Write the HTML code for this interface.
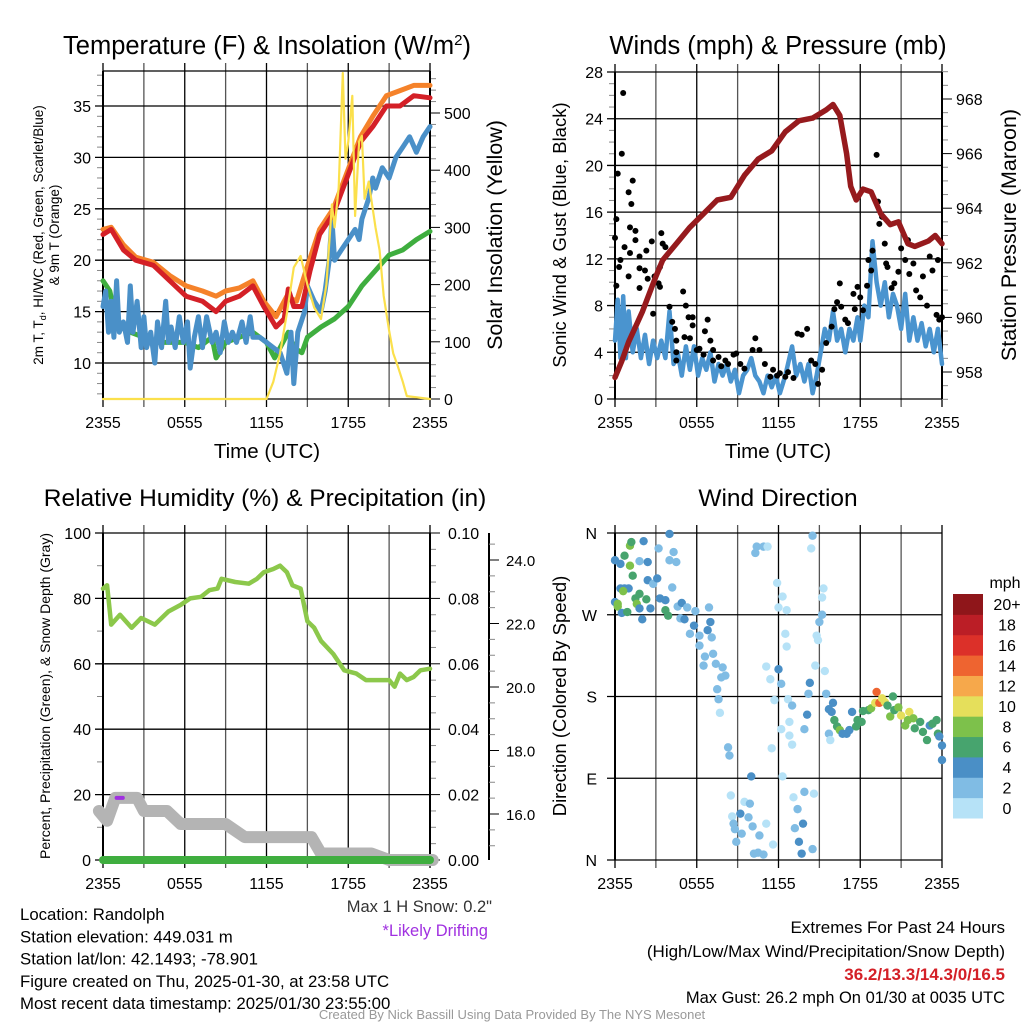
<!DOCTYPE html>
<html><head><meta charset="utf-8"><style>
body{margin:0;background:#fff;}
svg{display:block;font-family:"Liberation Sans",sans-serif;}
</style></head><body>
<svg id="c" width="1024" height="1024" viewBox="0 0 1024 1024"></svg>
<script>
// ===== DATA =====
const timeTicks = ["2355","0555","1155","1755","2355"];
// Panel 1: temperature
const orangeH = [0,0.6,1.5,2.4,3.7,4.9,6.1,7.3,8.3,9,10,11,11.8,12.7,13.5,14.2,14.9,15.9,16.9,17.9,18.9,19.8,20.8,21.8,22.8,24];
const orangeV = [23,23.2,21.5,20.3,19.8,18.5,17.5,17,16.5,17,17.3,18,16,14.5,16.5,16,19,23,25,28.5,32,34,36,36.5,37,37];
const redH = [0,0.6,1.5,2.4,3.7,4.9,6.1,7.3,8.3,9,10,11,11.8,12.7,13.3,13.6,14,14.6,15.2,15.9,16.9,17.9,18.9,19.8,20.8,21.8,22.8,24];
const redV = [22.5,23,21,20,19.5,18,16.5,16,15,16,16.5,17.5,15.5,13.5,14.3,17.2,15.5,15.5,19,22.5,24.5,28,31.5,33,35,35,36,35.8];
const greenH = [0,0.5,1,2,3,4,5,6,7,8,8.3,9,10,11,12,12.6,13,13.6,14,14.6,15,16,17,18,19,20,21,22,23,24];
const greenV = [18,17,14,13,12.5,12,12,12,11.5,12.5,10.5,12,12.5,13,12,10.5,11.5,13,11.5,11,12.5,13.5,14.3,15.5,17.5,19,20.5,21,22,22.8];
const blueH = [0,0.2,0.4,0.6,0.8,1,1.2,1.5,1.8,2,2.2,2.5,2.8,3,3.2,3.5,3.8,4,4.3,4.6,4.8,5,5.3,5.6,5.9,6.2,6.4,6.7,7,7.3,7.6,8,8.3,8.6,8.9,9.2,9.5,9.8,10.2,10.5,10.8,11,11.5,12,12.5,13,13.5,13.8,14,14.3,14.8,15,15.5,16,16.3,16.6,16.8,17,17.5,18,18.5,18.8,19,19.5,19.8,20,20.5,21,21.5,22,22.5,23,23.5,24];
const blueV = [15.5,17,13,16,12.5,18,13,14,12,17.5,13,16,11.5,14.5,11.5,13,10,14,11.5,16,12,13.5,11.5,14.5,12,14,9.5,12.5,14.5,11.5,14.5,12,13,11,14,12,13,12,14,12,14.5,12.5,12.5,12,11.5,11,9,13,8,13,15,17.5,16,15,17,20,24,20,21,22,23,22,24,26,28,27,29,28,30,31,32,30.5,32,33];
const solarH = [0,12,12.5,13,13.5,14,14.5,15,15.5,16,16.4,16.8,17,17.3,17.6,17.8,18,18.3,18.5,18.8,19,19.2,19.5,20,20.3,20.6,21,21.3,21.6,22,22.3,24];
const solarV = [0,0,30,80,150,230,250,200,160,140,200,340,300,370,570,420,450,530,320,450,460,350,380,300,260,180,120,80,60,30,5,0];
// Panel 2: winds & pressure
const presH = [0,0.5,1,2,3,3.5,4.5,5.5,6.5,7.5,8.5,9.5,10.5,11.5,12.5,13.5,14.5,15.5,16,16.5,17,17.3,17.7,18.2,18.8,19.5,20.2,20.8,21.5,22,23,23.5,24];
const presV = [957.8,958.4,959.1,960.2,961.5,962.1,962.7,963.3,963.8,964.3,964.4,965.2,965.8,966.1,966.8,967.2,967.3,967.6,967.8,967.4,966.0,964.8,964.3,964.7,964.6,963.8,963.4,963.5,962.7,962.6,962.8,963,962.7];
const windH = [0,0.2,0.4,0.6,0.8,1,1.3,1.6,1.9,2.2,2.5,2.8,3.1,3.4,3.7,4,4.3,4.6,4.9,5.2,5.5,5.8,6.1,6.4,6.7,7,7.3,7.6,7.9,8.2,8.5,8.8,9.1,9.4,9.7,10,10.3,10.6,10.9,11.2,11.5,11.8,12.1,12.5,13,13.3,13.6,13.9,14.2,14.5,14.8,15.1,15.4,15.7,16,16.3,16.6,16.9,17.2,17.5,17.8,18,18.3,18.6,18.9,19.2,19.5,19.8,20.1,20.4,20.7,21,21.3,21.6,21.9,22.2,22.5,22.8,23.1,23.4,23.7,24];
const windV = [5,8.5,3.5,8.8,3.5,7.5,4,6,3.5,5.5,3,5,3.5,5,3.5,7.5,3,4,2,4.5,2.5,4.5,2,3.5,2.5,4,1.5,3,2,3,1.5,2.5,0.5,2,2.5,3.5,2,1.5,0.5,2,1,2,0.5,2,4.5,2,3,1.5,3,0.5,2,4,6,5,7.5,5,6,4,6,5,7,5,8,7,13.5,10,8,10,7,9,8,6,9,5,7,5,6.5,4.5,6,4,6,3];
const gustH = [0,0.1,0.1,0.2,0.6,0.5,0.4,0.3,1.0,0.7,1.1,1.3,1.0,1.2,1.1,1.5,1.5,1.8,1.8,1.8,2.2,2.3,2.4,2.7,2.8,2.9,3.2,3.3,3.4,3.5,3.7,3.3,4.0,4.2,4.4,4.5,4.5,4.5,5.0,5.2,5.1,5.4,5.5,5.7,5.7,6.0,6.2,6.5,6.6,6.8,7.0,7.2,7.2,7.6,7.8,8.1,8.3,8.7,8.9,9.2,9.5,10.1,10.3,10.6,11.0,11.4,11.6,11.9,12.1,12.5,12.7,13.1,13.4,13.7,14.1,14.4,14.7,14.9,15.2,15.5,15.9,16.1,16.3,16.5,16.6,16.9,17.1,17.5,17.6,17.8,18.0,18.2,18.5,18.6,18.8,18.9,19.2,19.3,19.4,19.6,19.8,19.9,20.0,20.3,20.5,20.8,21.0,21.3,21.5,21.6,21.9,22.1,22.4,22.6,22.9,23.1,23.3,23.6,23.7,23.8,24.0];
const gustV = [13.8,9.7,15.4,19.3,26.2,21,11.9,11.3,10.5,13,14.7,18.7,17.7,16.7,12.5,14.4,13.6,12.2,11.2,9.5,11,12.7,10.3,13.5,7.3,10.5,9.9,11.3,14.2,13.3,13,9.6,7.9,6.6,6,4,3.3,5,9.2,8,5.3,7,5.2,7,6.3,4.2,4.3,3.8,5.8,6.8,5,4.2,3.3,3.6,2.8,3.3,3,3.8,3.9,3,2.6,4.2,5.2,4.2,3,1.9,2.5,2,2.2,1.9,2.3,1.8,5.6,5.5,6,3.3,3,1.3,2.5,4.8,6.2,7.7,8.3,9.9,7.9,6.8,6.5,9,7.7,9.6,8.7,7.6,9.7,11.9,11,12.7,20.9,16.9,15,15.6,13.3,11.6,11.3,9.5,9.9,10.9,12.9,11.9,13.6,10.7,11.6,9.3,8.7,10.5,8,12.2,11,7.2,11.9,6.8,7];
// Panel 3: RH, precip, snow
const rhH = [0,0.3,0.6,1.25,2.1,2.8,3.8,4.8,5.7,6.4,7.2,7.8,8.4,8.7,9.7,10.7,11.3,11.8,12.5,13,13.5,13.9,14.5,15,15.5,16,16.9,17.7,18.6,19.3,20.3,21,21.4,21.8,22.3,22.8,23.3,24];
const rhV = [83,84,72,75,71,74,72,76,78,80,80.5,82.5,83,86,85,84.5,86,88,89,90,88,84,83,73,71,67,63,58,57,55,55,55,53,57,55,56,58,58.5];
const snowH = [-0.3,0.3,0.9,2.5,3.0,4.7,5.7,9.0,10.4,15.3,16.0,19.7,21.0,24.2];
const snowV = [15,12,19,19,15,15,11,11,7,7,2,2,0,0];
const precipH = [0,24];
const precipV = [0,0];
const driftH = [1.0,1.45];
const driftV = [19,19];
// Panel 4: wind direction (hour, degrees, speed mph)
const dirH = [0,0.4,0.4,0.7,1.0,1.1,1.2,0.7,1.1,1.3,0,0.2,0.2,0.5,0.6,0.9,1.5,1.6,1.8,2.0,1.8,2.3,2.6,2.4,2.4,2.1,1.8,2.8,3.1,3.2,3.3,3.7,3.7,3.9,4.0,4.0,4.3,4.5,4.2,4.6,4.9,4.8,5.1,5.3,5.5,5.8,5.9,6.2,6.2,6.9,7.0,6.8,7.1,6.6,6.5,7.2,7.4,7.9,8.1,7.8,7.5,7.6,7.7,8.3,8.4,8.5,8.6,8.7,8.8,8.9,9.2,9.3,9.5,9.9,9.8,10.1,10.0,10.3,10.4,10.9,11.2,10.6,11.1,10.2,10.5,10.9,11.6,11.1,11.4,11.9,12.0,12.2,12.3,12.0,12.6,12.5,12.6,11.7,12.7,13.0,12.8,12.2,12.8,13.0,11.5,12.3,13.1,13.4,13.2,13.8,13.5,13.7,13.9,14.6,14.5,14.1,13.9,14.2,14.3,14.7,15.4,14.5,14.4,15.3,15.2,15.2,15.0,14.8,14.9,15.5,15.7,16.0,15.9,15.7,15.8,16.1,16.3,16.5,16.7,17.0,17.2,17.4,17.7,17.8,18.1,18.2,18.6,18.8,19.1,19.2,19.4,19.6,19.8,20.0,20.2,20.4,20.5,20.8,21.0,21.3,21.5,21.6,21.9,22.0,22.4,22.6,22.9,23.1,23.3,23.6,23.7,23.8,24.0,24.0];
const dirD = [330,326,299,299,299,346,350,335,324,313,284,282,279,272,296,273,288,282,293,265,277,287,277,328,308,351,329,304,310,343,288,286,275,269,359,330,339,328,300,279,283,266,265,278,249,258,274,247,236,278,262,253,245,224,214,227,216,212,203,201,188,177,162,124,115,71,48,40,34,20,51,29,64,62,47,37,92,338,345,345,345,27,40,7,8,6,17,213,199,305,210,194,290,278,275,249,235,176,177,170,152,144,137,127,123,92,69,56,35,40,20,7,75,73,12,160,144,183,195,214,208,357,343,299,289,270,262,247,242,183,166,173,163,139,132,154,147,143,139,139,143,163,147,154,152,164,165,167,173,185,173,178,174,170,158,180,165,168,159,148,154,163,156,145,152,141,132,148,150,154,139,136,126,110];
const dirS = [5,5,5,5,5,9,7,7,9,7,5,9,9,5,9,7,7,9,7,5,5,7,5,5,5,5,3,3,5,3,5,5,7,7,5,3,3,3,3,3,5,3,5,3,3,5,3,3,3,3,5,5,3,3,3,3,3,3,3,3,3,3,1,3,3,1,1,3,3,3,5,3,1,3,3,3,5,3,3,3,1,3,1,3,3,3,1,1,1,1,5,3,1,1,1,1,1,1,1,3,1,1,1,1,1,1,1,3,3,5,5,5,3,1,3,5,3,3,5,1,1,3,1,1,1,3,3,1,1,3,5,5,5,3,1,7,7,9,5,5,5,5,7,7,7,7,7,9,11,15,15,11,11,7,9,7,7,9,11,9,9,11,9,7,7,7,7,5,7,7,7,5,5,5];
const speedLabels = ["0","2","4","6","8","10","12","14","16","18","20+"];
const speedColors = ["#b6e2f7","#80bce4","#4a8fc6","#47a46e","#7dc14b","#e5df5b","#f6a84b","#ee6430","#dc3029","#bb1e26","#8f161a"];

// ===== DRAWING =====
const NS="http://www.w3.org/2000/svg";
const svg=document.getElementById('c');
function mk(tag,attrs,parent){const e=document.createElementNS(NS,tag);for(const k in attrs)e.setAttribute(k,attrs[k]);(parent||svg).appendChild(e);return e;}
function txt(s,x,y,size,anchor,parent,extra){const t=mk('text',Object.assign({x:x,y:y,'font-size':size,'text-anchor':anchor||'middle',fill:'#000'},extra||{}),parent);t.textContent=s;return t;}
function lin(d0,d1,r0,r1){return v=>r0+(v-d0)/(d1-d0)*(r1-r0);}

function panel(name){
  const g=mk('g',{});
  
  
  return g;
}
function timeAxis(g,x0,x1,y0,y1){
  const X=lin(0,24,x0,x1);
  for(let h=0;h<=24;h+=3){
    mk('line',{x1:X(h),x2:X(h),y1:y0-8,y2:y1+8,stroke:h%6==3?'#555':'#000','stroke-width':1.3},g);
  }
  timeTicks.forEach((s,i)=>{const t=txt(s,X(i*6),y1+29,16,'middle',g);
    
    });
  return X;
}
function hgrid(g,x0,x1,ys,tickLeft){
  ys.forEach(y=>{mk('line',{x1:x0-(tickLeft||0),x2:x1,y1:y,y2:y,stroke:'#000','stroke-width':1.3},g);});
}
function path(g,H,V,X,Y,color,w,name){
  let d='';H.forEach((h,i)=>{d+=(i?'L':'M')+X(h).toFixed(1)+' '+Y(V[i]).toFixed(1);});
  const p=mk('path',{d:d,fill:'none',stroke:color,'stroke-width':w,'stroke-linejoin':'round','stroke-linecap':'round'},g);
  
  
  return p;
}

// ---------- Panel 1 ----------
(function(){
  const x0=103,x1=430,y0=71,y1=399;
  const g=panel('temperature-panel');
  const T=lin(10,35,363,106), S=lin(0,500,399,113);
  const X=timeAxis(g,x0,x1,y0,y1);
  const ts=[10,15,20,25,30,35];
  hgrid(g,x0,x1,ts.map(T),8);
  for(let v=7;v<=38;v++) if(v%5) mk('line',{x1:x0-6,x2:x0,y1:T(v),y2:T(v),stroke:'#888'},g);
  for(let v=0;v<=560;v+=20) mk('line',{x1:x1,x2:x1+(v%100?6:10),y1:S(v),y2:S(v),stroke:v%100?'#888':'#000'},g);
  ts.forEach(v=>{const t=txt(String(v),x0-12,T(v)+6,16,'end',g);});
  [0,100,200,300,400,500].forEach(v=>{const t=txt(String(v),x1+14,S(v)+6,16,'start',g);});
  mk('line',{x1:x0,x2:x0,y1:y0,y2:y1,stroke:'#000','stroke-width':2},g);
  mk('line',{x1:x1,x2:x1,y1:y0,y2:y1,stroke:'#000','stroke-width':2},g);
  mk('line',{x1:x0,x2:x1,y1:y0,y2:y0,stroke:'#000','stroke-width':1.3},g);
  mk('line',{x1:x0,x2:x1,y1:y1,y2:y1,stroke:'#000','stroke-width':1.3},g);
  path(g,greenH,greenV,X,T,'#3fae3f',5,'dewpoint-line');
  path(g,blueH,blueV,X,T,'#4a90c8',5,'windchill-line');
  path(g,orangeH,orangeV,X,T,'#f5822a',5,'temp-9m-line');
  path(g,redH,redV,X,T,'#d42027',5,'temp-2m-line');
  path(g,solarH,solarV,X,S,'#fbe04c',2.2,'solar-line');
  const ti=txt('',267,54,25.5,'middle',g);
  ti.innerHTML='Temperature (F) &amp; Insolation (W/m<tspan dy="-9" font-size="15">2</tspan><tspan dy="9">)</tspan>';
  const yt=txt('',0,0,13.5,'middle',g,{transform:'translate(43,235) rotate(-90)'});
  yt.innerHTML='2m T, T<tspan font-size="9" dy="3">d</tspan><tspan dy="-3">, HI/WC (Red, Green, Scarlet/Blue)</tspan>';
  const yt2=txt('& 9m T (Orange)',0,0,13.5,'middle',g,{transform:'translate(59,235) rotate(-90)'});
  const rt=txt('Solar Insolation (Yellow)',0,0,21.5,'middle',g,{transform:'translate(502,235) rotate(-90)'});
  const xt=txt('Time (UTC)',267,458,20.5,'middle',g);
})();

// ---------- Panel 2 ----------
(function(){
  const x0=615,x1=942,y0=72,y1=399;
  const g=panel('winds-panel');
  const W=lin(0,28,399,72), P=lin(958,968,372,99);
  const X=timeAxis(g,x0,x1,y0,y1);
  const ws=[0,4,8,12,16,20,24,28];
  hgrid(g,x0,x1,ws.map(W),8);
  for(let v=1;v<28;v++) if(v%4) mk('line',{x1:x0-6,x2:x0,y1:W(v),y2:W(v),stroke:'#888'},g);
  for(let v=957;v<=969;v+=0.5) mk('line',{x1:x1,x2:x1+(v%2?6:10),y1:P(v),y2:P(v),stroke:v%2?'#888':'#000'},g);
  ws.forEach(v=>{const t=txt(String(v),x0-12,W(v)+6,16,'end',g);});
  [958,960,962,964,966,968].forEach(v=>{const t=txt(String(v),x1+14,P(v)+6,16,'start',g);});
  mk('line',{x1:x0,x2:x0,y1:y0,y2:y1,stroke:'#000','stroke-width':2},g);
  mk('line',{x1:x1,x2:x1,y1:y0,y2:y1,stroke:'#000','stroke-width':2},g);
  path(g,windH,windV,X,W,'#4a94cf',4.5,'sonic-wind-line');
  gustH.forEach((h,i)=>{const c=mk('circle',{cx:X(h),cy:W(gustV[i]),r:3,fill:'#000'},g);
    
    });
  path(g,presH,presV,X,P,'#961a1d',5.5,'pressure-line');
  const ti=txt('Winds (mph) & Pressure (mb)',778,54,25.5,'middle',g);
  const yt=txt('Sonic Wind & Gust (Blue, Black)',0,0,18.5,'middle',g,{transform:'translate(566,235) rotate(-90)'});
  const rt=txt('Station Pressure (Maroon)',0,0,21.5,'middle',g,{transform:'translate(1016,235) rotate(-90)'});
  const xt=txt('Time (UTC)',778,458,20.5,'middle',g);
})();

// ---------- Panel 3 ----------
(function(){
  const x0=103,x1=430,y0=533,y1=860;
  const g=panel('humidity-panel');
  const R=lin(0,100,860,533), SD=lin(16,24,814,560);
  const X=timeAxis(g,x0,x1,y0,y1);
  const rs=[0,20,40,60,80,100];
  hgrid(g,x0,x1,rs.map(R),8);
  for(let v=10;v<100;v+=20) mk('line',{x1:x0-6,x2:x0,y1:R(v),y2:R(v),stroke:'#888'},g);
  for(let v=0;v<=100;v+=5) mk('line',{x1:x1,x2:x1+(v%20?6:10),y1:R(v),y2:R(v),stroke:v%20?'#888':'#000'},g);
  rs.forEach(v=>{const t=txt(String(v),x0-12,R(v)+6,16,'end',g);});
  ["0.00","0.02","0.04","0.06","0.08","0.10"].forEach((s,i)=>{const t=txt(s,x1+18,R(i*20)+6,16,'start',g);});
  mk('line',{x1:489,x2:489,y1:533,y2:860,stroke:'#000','stroke-width':2},g);
  for(let v=15;v<=24.6;v+=0.5) mk('line',{x1:489,x2:489+(v%2?6:10),y1:SD(v),y2:SD(v),stroke:v%2?'#888':'#000'},g);
  [16,18,20,22,24].forEach(v=>{const t=txt(v.toFixed(1),506,SD(v)+6,15,'start',g);});
  mk('line',{x1:x0,x2:x0,y1:y0,y2:y1,stroke:'#000','stroke-width':2},g);
  mk('line',{x1:x1,x2:x1,y1:y0,y2:y1,stroke:'#000','stroke-width':2},g);
  path(g,snowH,snowV,X,R,'#b4b4b4',12,'snow-depth-line');
  path(g,precipH,precipV,X,R,'#3fae3f',8,'precip-line');
  path(g,rhH,rhV,X,R,'#8cc84b',4.5,'rh-line');
  path(g,driftH,driftV,X,R,'#a030e0',4,'drifting-marker');
  const ti=txt('Relative Humidity (%) & Precipitation (in)',265,506,24.5,'middle',g);
  const yt=txt('Percent, Precipitation (Green), & Snow Depth (Gray)',0,0,14,'middle',g,{transform:'translate(50,696) rotate(-90)'});
})();

// ---------- Panel 4 ----------
(function(){
  const x0=615,x1=942,y0=533,y1=860;
  const g=panel('wind-direction-panel');
  const D=lin(0,360,860,533);
  const X=timeAxis(g,x0,x1,y0,y1);
  hgrid(g,x0,x1,[0,90,180,270,360].map(D),8);
  ["N","E","S","W","N"].forEach((s,i)=>{const t=txt(s,x0-18,D(i*90)+6,16,'end',g);});
  mk('line',{x1:x0,x2:x0,y1:y0,y2:y1,stroke:'#000','stroke-width':2},g);
  dirH.forEach((h,i)=>{const k=Math.min(10,Math.floor(dirS[i]/2));
    const c=mk('circle',{cx:X(h),cy:D(dirD[i]),r:4.2,fill:speedColors[k]},g);
    
    });
  const ti=txt('Wind Direction',778,506,24.5,'middle',g);
  const yt=txt('Direction (Colored By Speed)',0,0,18.5,'middle',g,{transform:'translate(566,696) rotate(-90)'});
  const lg=mk('g',{},g);
  
  
  const bh=224/11;
  speedColors.forEach((c,i)=>{const yy=594+(10-i)*bh;mk('rect',{x:953,y:yy,width:30,height:bh+0.5,fill:c},lg);
    const t=txt(speedLabels[i],1007,yy+bh/2+6,16,'middle',lg);
    
    });
  txt('mph',1005,588,16,'middle',lg);
})();

// ---------- Footer text ----------
(function(){
  const g=mk('g',{});
  
  
  const L=["Location: Randolph","Station elevation: 449.031 m","Station lat/lon: 42.1493; -78.901","Figure created on Thu, 2025-01-30, at 23:58 UTC","Most recent data timestamp: 2025/01/30 23:55:00"];
  L.forEach((s,i)=>txt(s,20,920+i*22.3,16.8,'start',g));
  txt('Max 1 H Snow: 0.2"',492,912,16.5,'end',g,{fill:'#333'});
  txt('*Likely Drifting',488,936,16.5,'end',g,{fill:'#a030e0'});
  txt('Extremes For Past 24 Hours',1005,933,17,'end',g);
  txt('(High/Low/Max Wind/Precipitation/Snow Depth)',1005,957,17,'end',g);
  txt('36.2/13.3/14.3/0/16.5',1005,980,17,'end',g,{fill:'#d42027','font-weight':'bold'});
  txt('Max Gust: 26.2 mph On 01/30 at 0035 UTC',1005,1003,16.5,'end',g);
  txt('Created By Nick Bassill Using Data Provided By The NYS Mesonet',512,1019,13,'middle',g,{fill:'#999'});
})();
</script>
</body></html>
